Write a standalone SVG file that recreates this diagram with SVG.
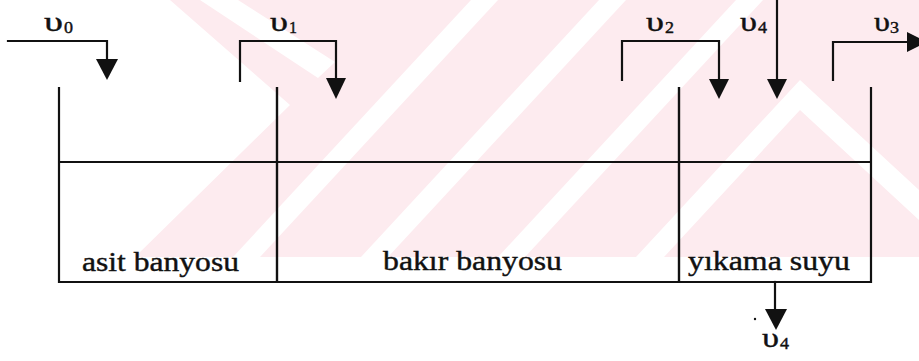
<svg xmlns="http://www.w3.org/2000/svg" width="919" height="361" viewBox="0 0 919 361">
  <style>
    .ln { fill: none; stroke: #111; stroke-width: 2.2; stroke-linecap: square; }
    .ah { fill: #111; stroke: none; }
    .lbl { font-family: "Liberation Serif", "Times New Roman", serif; fill: #111; stroke: #111; stroke-width: 0.4; }
    .main { font-size: 27px; }
    .ups { font-size: 28px; }
    .sub { font-size: 16px; }
    .pink { fill: #fdebef; }
    .wht { fill: #ffffff; }
  </style>
  <rect width="919" height="361" fill="#ffffff"/>
  <g id="watermark">
    <polygon class="pink" points="170,0 919,0 919,257 135,257 290,105"/>
    <polygon class="wht" points="200,0 238,0 335,62 318,78"/>
    <polygon class="wht" points="233,257 260,257 498,0 471,0"/>
    <polygon class="wht" points="361,257 388,257 626,0 599,0"/>
    <polygon class="wht" points="498,257 525,257 763,0 736,0"/>
    <polygon class="wht" points="636,257 800,80 919,190 919,220 800,110 664,257"/>
  </g>
  <g id="tank-asit">
    <path class="ln" d="M59,88 V282 H277 V88 M59,162 H277"/>
    <text class="lbl main" x="82" y="271" textLength="157" lengthAdjust="spacingAndGlyphs">asit banyosu</text>
  </g>
  <g id="tank-bakir">
    <path class="ln" d="M277,88 V282 H679 V88 M277,162 H679"/>
    <text class="lbl main" x="383" y="270" textLength="179" lengthAdjust="spacingAndGlyphs">bakır banyosu</text>
  </g>
  <g id="tank-yikama">
    <path class="ln" d="M679,88 V282 H871 V88 M679,162 H871"/>
    <text class="lbl main" x="688" y="270" textLength="162" lengthAdjust="spacingAndGlyphs">yıkama suyu</text>
  </g>
  <g id="connectors">
    <g id="flow-v0">
      <path class="ln" d="M8,41 H107 V62"/>
      <polygon class="ah" points="96,59 118,59 107,80"/>
      <text class="lbl ups" x="44" y="31" textLength="19" lengthAdjust="spacingAndGlyphs">υ</text>
      <text class="lbl sub" x="64" y="33" textLength="9" lengthAdjust="spacingAndGlyphs">0</text>
    </g>
    <g id="flow-v1">
      <path class="ln" d="M240,81 V41 H336 V80"/>
      <polygon class="ah" points="326,78 346,78 336,99"/>
      <text class="lbl ups" x="270" y="31" textLength="18" lengthAdjust="spacingAndGlyphs">υ</text>
      <text class="lbl sub" x="289" y="33" textLength="8" lengthAdjust="spacingAndGlyphs">1</text>
    </g>
    <g id="flow-v2">
      <path class="ln" d="M622,80 V41 H719 V80"/>
      <polygon class="ah" points="709,79 729,79 719,99"/>
      <text class="lbl ups" x="646" y="31" textLength="18" lengthAdjust="spacingAndGlyphs">υ</text>
      <text class="lbl sub" x="665" y="33" textLength="9" lengthAdjust="spacingAndGlyphs">2</text>
    </g>
    <g id="flow-v4-in">
      <path class="ln" d="M777,0 V80"/>
      <polygon class="ah" points="767,79 787,79 777,99"/>
      <text class="lbl ups" x="740" y="31" textLength="17" lengthAdjust="spacingAndGlyphs">υ</text>
      <text class="lbl sub" x="758" y="33" textLength="9" lengthAdjust="spacingAndGlyphs">4</text>
    </g>
    <g id="flow-v3">
      <path class="ln" d="M833,80 V42 H910"/>
      <polygon class="ah" points="907,32 907,52 927,42"/>
      <text class="lbl ups" x="874" y="31" textLength="16" lengthAdjust="spacingAndGlyphs">υ</text>
      <text class="lbl sub" x="890" y="33" textLength="9" lengthAdjust="spacingAndGlyphs">3</text>
    </g>
    <g id="flow-v4-out">
      <path class="ln" d="M775,282 V310"/>
      <polygon class="ah" points="765,309 787,309 776,330"/>
      <circle cx="755" cy="319" r="1.2" fill="#111"/>
      <text class="lbl ups" x="762" y="347" textLength="17" lengthAdjust="spacingAndGlyphs">υ</text>
      <text class="lbl sub" x="780" y="349" textLength="9" lengthAdjust="spacingAndGlyphs">4</text>
    </g>
  </g>
</svg>
